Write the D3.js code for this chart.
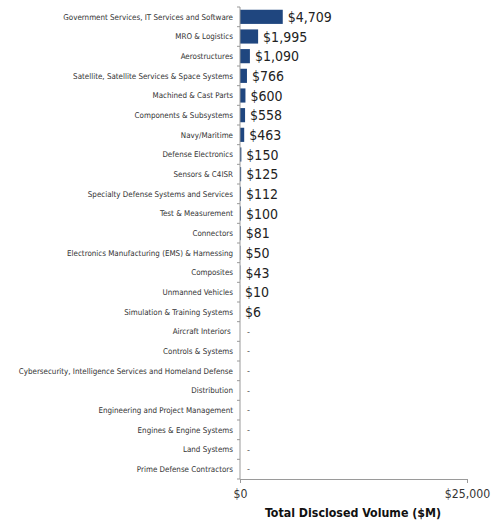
<!DOCTYPE html>
<html>
<head>
<meta charset="utf-8">
<script src="https://cdn.jsdelivr.net/npm/d3@7"></script>
<style>
  html, body { margin: 0; padding: 0; background: #fff; }
  svg { display: block; }
</style>
</head>
<body>
<div id="chart"></div>
<script>
// Disclosed deal volume by sector, $M
const categories = [
  "Government Services, IT Services and Software",
  "MRO & Logistics",
  "Aerostructures",
  "Satellite, Satellite Services & Space Systems",
  "Machined & Cast Parts",
  "Components & Subsystems",
  "Navy/Maritime",
  "Defense Electronics",
  "Sensors & C4ISR",
  "Specialty Defense Systems and Services",
  "Test & Measurement",
  "Connectors",
  "Electronics Manufacturing (EMS) & Harnessing",
  "Composites",
  "Unmanned Vehicles",
  "Simulation & Training Systems",
  "Aircraft Interiors ",
  "Controls & Systems",
  "Cybersecurity, Intelligence Services and Homeland Defense",
  "Distribution",
  "Engineering and Project Management",
  "Engines & Engine Systems",
  "Land Systems",
  "Prime Defense Contractors"
];
const volumes = [4709, 1995, 1090, 766, 600, 558, 463, 150, 125, 112, 100, 81, 50, 43, 10, 6,
  0, 0, 0, 0, 0, 0, 0, 0];
const xTicks = [0, 25000];
const xTitle = "Total Disclosed Volume ($M)";

const W = 504, H = 523;
const svg = d3.select("#chart").append("svg").attr("width", W).attr("height", H);

const x = d3.scaleLinear().domain([0, 25000]).range([240, 467]);
const y = d3.scaleBand().domain(categories).range([7, 479]).paddingInner(0.28).paddingOuter(0.14);

const fmt = d3.format(",");
const labelFont = "'DejaVu Sans Condensed', 'DejaVu Sans', sans-serif";

// bars
svg.append("g").selectAll("rect")
  .data(categories)
  .join("rect")
  .attr("x", x(0))
  .attr("y", d => y(d))
  .attr("width", (d, i) => Math.max(0, x(volumes[i]) - x(0)))
  .attr("height", y.bandwidth())
  .attr("fill", "#1f467f");

// value labels
svg.append("g").selectAll("text")
  .data(categories)
  .join("text")
  .attr("x", (d, i) => x(volumes[i]) + (volumes[i] > 0 ? 5 : 7))
  .attr("y", d => y(d) + y.bandwidth() / 2)
  .attr("dy", "0.36em")
  .attr("font-family", labelFont)
  .attr("font-size", (d, i) => volumes[i] > 0 ? 14 : 9)
  .attr("fill", (d, i) => volumes[i] > 0 ? "#222" : "#555")
  .text((d, i) => volumes[i] > 0 ? "$" + fmt(volumes[i]) : "-");

// category axis: ticks sit on the boundaries between rows
const yAxis = svg.append("g").attr("transform", `translate(${x(0)},0)`);
yAxis.append("line")
  .attr("x1", 0).attr("x2", 0).attr("y1", 7).attr("y2", 479)
  .attr("stroke", "#9a9a9a").attr("stroke-width", 1);
yAxis.selectAll("line.tk")
  .data(d3.range(categories.length + 1))
  .join("line")
  .attr("class", "tk")
  .attr("x1", -3).attr("x2", 0)
  .attr("y1", i => 7 + i * (472 / categories.length))
  .attr("y2", i => 7 + i * (472 / categories.length))
  .attr("stroke", "#9a9a9a");
yAxis.selectAll("text")
  .data(categories)
  .join("text")
  .attr("x", -7)
  .attr("y", d => y(d) + y.bandwidth() / 2)
  .attr("dy", "0.35em")
  .attr("text-anchor", "end")
  .attr("font-family", labelFont)
  .attr("font-size", 7.95)
  .attr("fill", "#333")
  .style("white-space", "pre")
  .text(d => d);

// value axis
const xAxis = svg.append("g")
  .attr("transform", "translate(0,479)")
  .call(d3.axisBottom(x).tickValues(xTicks).tickSize(4).tickSizeOuter(0).tickPadding(6)
    .tickFormat(d => "$" + fmt(d)));
xAxis.select(".domain").attr("stroke", "#9a9a9a");
xAxis.selectAll(".tick line").attr("stroke", "#9a9a9a");
xAxis.selectAll(".tick text")
  .attr("font-family", labelFont)
  .attr("font-size", 12.2)
  .attr("fill", "#333");

svg.append("text")
  .attr("x", 353)
  .attr("y", 517)
  .attr("text-anchor", "middle")
  .attr("font-family", labelFont)
  .attr("font-weight", "bold")
  .attr("font-size", 12.3)
  .attr("fill", "#111")
  .text(xTitle);
</script>
</body>
</html>
